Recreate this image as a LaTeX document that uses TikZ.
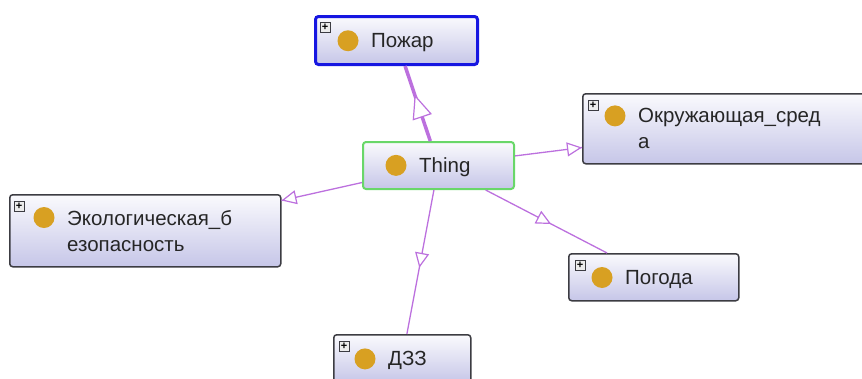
\documentclass[tikz,border=0pt]{standalone}
\usepackage{fontspec}
\newfontfamily\owlfont{Liberation Sans}
\usepackage{tikz}
\usetikzlibrary{arrows.meta,positioning,decorations.markings}
\definecolor{boxtop}{RGB}{250,250,253}
\definecolor{boxbottom}{RGB}{198,198,232}
\definecolor{boxedge}{RGB}{60,60,66}
\definecolor{selblue}{RGB}{22,22,225}
\definecolor{thinggreen}{RGB}{105,215,105}
\definecolor{dotgold}{RGB}{216,160,34}
\definecolor{isapurple}{RGB}{188,112,222}

\begin{document}
\begin{tikzpicture}[x=1pt, y=-1pt,
    classbox/.style={draw=boxedge, line width=1.5pt, rounded corners=3pt,
        top color=boxtop, bottom color=boxbottom, anchor=north west, inner sep=0pt},
    selectedbox/.style={classbox, draw=selblue, line width=3pt},
    thingbox/.style={classbox, draw=thinggreen, line width=2pt},
    plusicon/.style={draw=boxedge, fill=gray!15, line width=0.7pt, minimum size=10pt,
        inner sep=0pt, font=\owlfont\fontsize{11}{11}\selectfont\bfseries},
    classdot/.style={circle, fill=dotgold, minimum size=21pt, inner sep=0pt},
    classlabel/.style={font=\owlfont\fontsize{20.5}{26}\selectfont, text=black!85,
        align=left, inner sep=0pt, text depth=0pt, anchor=west},
    isa/.style={draw=isapurple, line width=1.3pt, postaction={decorate},
        decoration={markings, mark=at position #1 with
            {\arrow{Triangle[length=15pt, width=14pt, fill=white, line width=1.2pt]}}}},
    isathick/.style={draw=isapurple, line width=3.5pt, postaction={decorate},
        decoration={markings, mark=at position #1 with
            {\arrow{Triangle[length=24pt, width=20pt, fill=white, line width=1.2pt]}}}}
]
    \useasboundingbox (0,0) rectangle (862,378);
    \clip (0,0) rectangle (862,378);

    % Thing in the middle
    \node[thingbox, minimum width=151pt, minimum height=47pt] (thing) at (362,141) {};
    \node[classlabel] (thing-label) at ([xshift=57pt]thing.west) {Thing};
    \node[classdot] (thing-dot) at ([shift={(-23,7.5)}]thing-label.north west) {};

    % Subclasses
    \node[selectedbox, minimum width=162pt, minimum height=48pt] (pozhar) at (314,15) {};
    \node[plusicon] (pozhar-plus) at ([shift={(11,12)}]pozhar.north west) {+};
    \node[classlabel] (pozhar-label) at ([xshift=57pt]pozhar.west) {Пожар};
    \node[classdot] (pozhar-dot) at ([shift={(-23,7.5)}]pozhar-label.north west) {};

    \node[classbox, minimum width=300pt, minimum height=70pt] (sreda) at (582,93) {};
    \node[plusicon] (sreda-plus) at ([shift={(11,12)}]sreda.north west) {+};
    \node[classlabel] (sreda-label) at ([xshift=56pt]sreda.west) {Окружающая\_сред\\а};
    \node[classdot] (sreda-dot) at ([shift={(-23,7.5)}]sreda-label.north west) {};

    \node[classbox, minimum width=271pt, minimum height=72pt] (eko) at (9,194) {};
    \node[plusicon] (eko-plus) at ([shift={(10,12)}]eko.north west) {+};
    \node[classlabel] (eko-label) at ([xshift=58pt]eko.west) {Экологическая\_б\\езопасность};
    \node[classdot] (eko-dot) at ([shift={(-23,7.5)}]eko-label.north west) {};

    \node[classbox, minimum width=170pt, minimum height=47pt] (pogoda) at (568,253) {};
    \node[plusicon] (pogoda-plus) at ([shift={(12,12)}]pogoda.north west) {+};
    \node[classlabel] (pogoda-label) at ([xshift=57pt]pogoda.west) {Погода};
    \node[classdot] (pogoda-dot) at ([shift={(-23,7.5)}]pogoda-label.north west) {};

    \node[classbox, minimum width=137pt, minimum height=48pt] (dzz) at (333,334) {};
    \node[plusicon] (dzz-plus) at ([shift={(11,12)}]dzz.north west) {+};
    \node[classlabel] (dzz-label) at ([xshift=55pt]dzz.west) {ДЗЗ};
    \node[classdot] (dzz-dot) at ([shift={(-23,7.5)}]dzz-label.north west) {};

    % is-a links
    \draw[isathick=0.62] (thing) -- (pozhar);
    \draw[isa=1] (thing) -- (sreda);
    \draw[isa=1] (thing) -- (eko);
    \draw[isa=0.54] (thing) -- (pogoda);
    \draw[isa=0.54] (thing) -- (dzz);
\end{tikzpicture}
\end{document}
